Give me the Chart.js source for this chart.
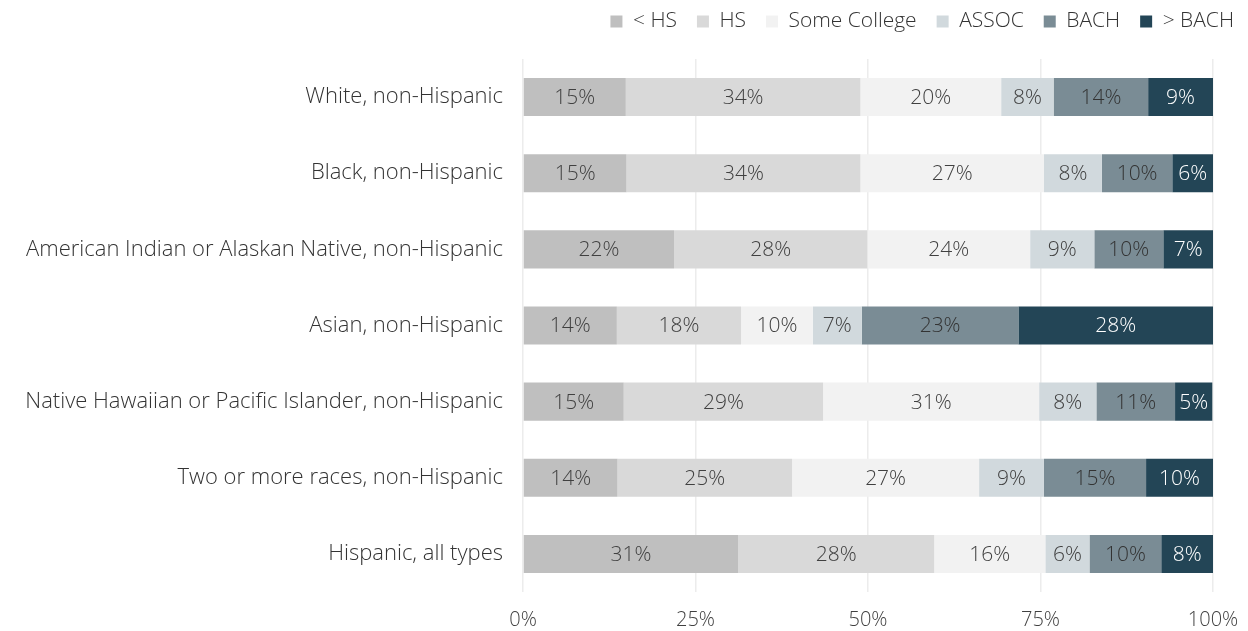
<!DOCTYPE html>
<html>
<head>
<meta charset="utf-8">
<script src="https://cdn.jsdelivr.net/npm/chart.js@4"></script>
<style>
    body { margin: 0; background: #fff; }
    .wrap { width: 1248px; height: 631px; }
</style>
</head>
<body>
<div class="wrap"><canvas id="edChart"></canvas></div>
<script>
const groups = [
    "White, non-Hispanic",
    "Black, non-Hispanic",
    "American Indian or Alaskan Native, non-Hispanic",
    "Asian, non-Hispanic",
    "Native Hawaiian or Pacific Islander, non-Hispanic",
    "Two or more races, non-Hispanic",
    "Hispanic, all types",
];
const levels = ["< HS", "HS", "Some College", "ASSOC", "BACH", "> BACH"];

// share of each group, percent
const lessHS = [14.9, 15.0, 21.9, 13.6, 14.6, 13.7, 31.2];
const hs = [34.0, 33.9, 28.0, 18.0, 28.9, 25.3, 28.4];
const someCollege = [20.4, 26.6, 23.6, 10.4, 31.3, 27.1, 16.1];
const assoc = [7.6, 8.4, 9.3, 7.1, 8.3, 9.4, 6.4];
const bach = [13.7, 10.2, 10.0, 22.7, 11.4, 14.8, 10.4];
const moreBach = [9.4, 5.9, 7.2, 28.2, 5.4, 9.7, 7.5];

const xTicks = [0, 25, 50, 75, 100];

const colors = ["#bfbfbf", "#d9d9d9", "#f2f2f2", "#d1d9dd", "#7a8c95", "#234556"];
const labelColors = ["#404040", "#404040", "#404040", "#404040", "#333333", "#ffffff"];

const FONT = "'Open Sans', Lato, sans-serif";

const series = [lessHS, hs, someCollege, assoc, bach, moreBach];

// draws the % text in the middle of each segment
const segLabels = {
    id: "segLabels",
    beforeInit(chart) {
        // taller legend box so the plot starts lower
        const fit = chart.legend.fit;
        chart.legend.fit = function () {
            fit.call(this);
            this.height += 17;
        };
    },
    afterDatasetsDraw(chart) {
        const ctx = chart.ctx;
        ctx.save();
        ctx.font = "300 21px " + FONT;
        ctx.textAlign = "center";
        ctx.textBaseline = "middle";
        chart.data.datasets.forEach((ds, i) => {
            const meta = chart.getDatasetMeta(i);
            meta.data.forEach((bar, j) => {
                const mid = (bar.x + bar.base) / 2;
                ctx.fillStyle = labelColors[i];
                ctx.fillText(Math.round(ds.data[j]) + "%", mid, bar.y + 1);
            });
        });
        ctx.restore();
    },
};

new Chart(document.getElementById("edChart"), {
    type: "bar",
    data: {
        labels: groups,
        datasets: levels.map((l, i) => ({
            label: l,
            data: series[i],
            backgroundColor: colors[i],
            borderWidth: 0,
            categoryPercentage: 1,
            barPercentage: 0.5,
        })),
    },
    options: {
        indexAxis: "y",
        responsive: true,
        maintainAspectRatio: false,
        animation: false,
        layout: { padding: { top: -9, right: -6, left: 12, bottom: 0 } },
        scales: {
            x: {
                stacked: true,
                min: 0,
                max: 100,
                afterBuildTicks(axis) {
                    axis.ticks = xTicks.map(v => ({ value: v }));
                },
                afterFit(scale) {
                    scale.height = 39;
                    scale.paddingRight = 35;
                },
                ticks: {
                    callback: v => v + "%",
                    color: "#404040",
                    font: { family: FONT, size: 20, weight: 300 },
                    padding: 16,
                },
                grid: { color: "#ececec", lineWidth: 1.5, drawTicks: false },
                border: { display: false },
            },
            y: {
                stacked: true,
                afterFit(scale) {
                    scale.width = 511;
                },
                ticks: {
                    color: "#333333",
                    font: { family: FONT, size: 22, weight: 300 },
                    padding: 20,
                },
                grid: { display: false, drawTicks: false },
                border: { display: false },
            },
        },
        plugins: {
            legend: {
                position: "top",
                align: "end",
                labels: {
                    boxWidth: 12,
                    boxHeight: 12,
                    padding: 20,
                    color: "#333333",
                    font: { family: FONT, size: 21, weight: 300 },
                },
            },
            tooltip: { enabled: false },
        },
    },
    plugins: [segLabels],
});
</script>
</body>
</html>
